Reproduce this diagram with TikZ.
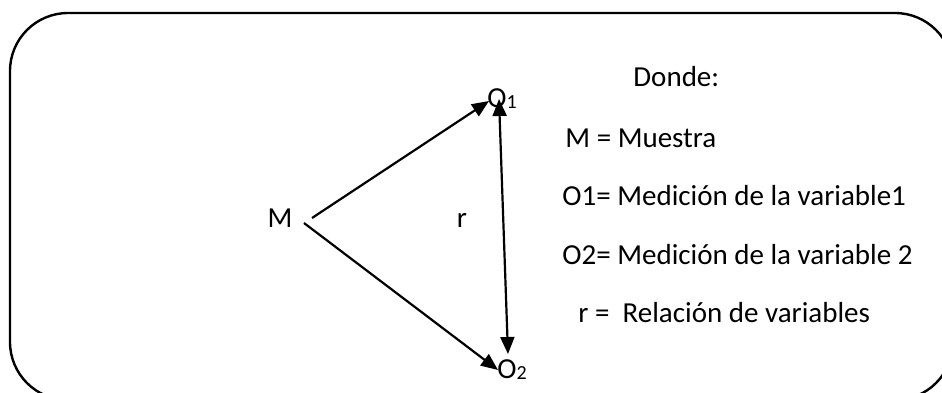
\documentclass[tikz,border=0pt]{standalone}
\usepackage{fontspec}
\setmainfont{Carlito}
\usetikzlibrary{arrows.meta}
\newcommand{\lowdigit}[1]{\raisebox{-0.6pt}{\fontsize{10}{10}\selectfont #1}}
\begin{document}
\begin{tikzpicture}[x=0.5pt,y=-0.5pt,
  lbl/.style={inner sep=0pt,font=\fontsize{14.5}{17}\selectfont},
  legend/.style={lbl,anchor=base west},
  tip/.style={},
  arr/.style={line width=1.1pt,-{Triangle[length=8.5pt,width=7pt]}},
  darr/.style={line width=1.1pt,{Triangle[length=8.5pt,width=7pt]}-{Triangle[length=8.5pt,width=7pt]}},
  frame/.style={line width=1.2pt,rounded corners=29pt}]
\useasboundingbox (0,0) rectangle (942,392);
\fill[white] (0,0) rectangle (942,392);
\begin{scope}
\clip (0,0) rectangle (942,392);
\draw[frame] (10,13) rectangle (953,400);
\end{scope}
% diagram labels
\node[lbl,anchor=base] (M) at (280,227) {M};
\node[lbl,anchor=base] (r) at (462,227) {r};
\node[lbl,anchor=base west] (O1) at (487,107) {O\lowdigit{1}};
\node[lbl,anchor=base west] (O2) at (497,378) {O\lowdigit{2}};
% arrow end points
\coordinate (mA) at (312,218);
\coordinate (mB) at (304,223);
\coordinate (t1) at (489,101);
\coordinate (t2) at (498,370);
\coordinate (d1) at (499,99);
\coordinate (d2) at (508,354);
\draw[arr] (mA) -- (t1);
\draw[arr] (mB) -- (t2);
\draw[darr] (d1) -- (d2);
% legend
\node[legend] (donde) at (633,86) {Donde:};
\node[legend] (lm) at (565,147) {M = Muestra};
\node[legend] (lo1) at (562,205) {O1= Medición de la variable1};
\node[legend] (lo2) at (562,264) {O2= Medición de la variable 2};
\node[legend] (lr) at (578,322) {r =\ \ Relación de variables};
\end{tikzpicture}
\end{document}
